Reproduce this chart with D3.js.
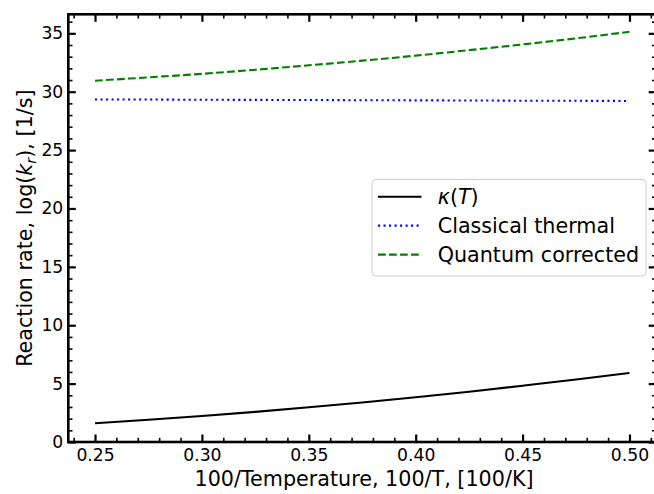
<!DOCTYPE html>
<html>
<head>
<meta charset="utf-8">
<script src="https://cdn.jsdelivr.net/npm/d3@7"></script>
<style>
  body { margin: 0; background: #fff; }
  text { font-family: "DejaVu Sans", sans-serif; fill: #000; }
</style>
</head>
<body>
<svg id="chart" width="654" height="494"></svg>
<script>
// Inverse temperature, 100/T [100/K]
const invTemp = [0.25, 0.275, 0.30, 0.325, 0.35, 0.375, 0.40, 0.425, 0.45, 0.475, 0.50];
// Tunnelling factor kappa(T), log scale
const kappa = [1.60, 1.90, 2.22, 2.58, 2.97, 3.39, 3.83, 4.31, 4.82, 5.35, 5.92];
// Classical thermal rate, log(k_r)
const classical = [29.34, 29.33, 29.31, 29.30, 29.29, 29.27, 29.26, 29.25, 29.23, 29.22, 29.21];
// Quantum corrected rate, log(k_r)
const quantum = [30.94, 31.23, 31.53, 31.88, 32.26, 32.66, 33.09, 33.56, 34.05, 34.57, 35.13];

const xTicks = [0.25, 0.30, 0.35, 0.40, 0.45, 0.50];
const xTickLabels = ["0.25", "0.30", "0.35", "0.40", "0.45", "0.50"];
const yTicks = [0, 5, 10, 15, 20, 25, 30, 35];
const yTickLabels = ["0", "5", "10", "15", "20", "25", "30", "35"];

const seriesNames = ["kappa", "Classical thermal", "Quantum corrected"];

const svg = d3.select("#chart");

const x = d3.scaleLinear().domain([0.2375, 0.5125]).range([68.3, 656.2]);
const y = d3.scaleLinear().domain([0, 36.63]).range([442, 14.3]);

const plotLeft = x.range()[0], plotRight = x.range()[1];
const plotTop = y.range()[1], plotBottom = y.range()[0];

const majorLen = 7.5, minorLen = 4.2;
const tickFont = 17.2, labelFont = 20.7;
const xMinor = d3.range(24, 52).map(v => v / 100).filter(v => !xTicks.some(t => Math.abs(t - v) < 1e-9));
const yMinor = d3.range(0, 37).filter(v => !yTicks.includes(v));

function styleTicks(g, w) {
  g.select(".domain").remove();
  g.selectAll(".tick line").attr("stroke", "#000").attr("stroke-width", w);
}

// Bottom axis
svg.append("g").attr("transform", `translate(0,${plotBottom})`)
  .call(d3.axisBottom(x).tickValues(xTicks).tickSize(-majorLen).tickPadding(7)
    .tickFormat((d, i) => xTickLabels[i]))
  .call(g => styleTicks(g, 2.2))
  .call(g => g.selectAll("text").attr("font-size", tickFont).attr("font-family", "DejaVu Sans"));
svg.append("g").attr("transform", `translate(0,${plotBottom})`)
  .call(d3.axisBottom(x).tickValues(xMinor).tickSize(-minorLen).tickFormat(""))
  .call(g => styleTicks(g, 1.6));

// Top axis
svg.append("g").attr("transform", `translate(0,${plotTop})`)
  .call(d3.axisTop(x).tickValues(xTicks).tickSize(-majorLen).tickFormat(""))
  .call(g => styleTicks(g, 2.2));
svg.append("g").attr("transform", `translate(0,${plotTop})`)
  .call(d3.axisTop(x).tickValues(xMinor).tickSize(-minorLen).tickFormat(""))
  .call(g => styleTicks(g, 1.6));

// Left axis
svg.append("g").attr("transform", `translate(${plotLeft},0)`)
  .call(d3.axisLeft(y).tickValues(yTicks).tickSize(-majorLen).tickPadding(5)
    .tickFormat((d, i) => yTickLabels[i]))
  .call(g => styleTicks(g, 2.2))
  .call(g => g.selectAll("text").attr("font-size", tickFont).attr("font-family", "DejaVu Sans"));
svg.append("g").attr("transform", `translate(${plotLeft},0)`)
  .call(d3.axisLeft(y).tickValues(yMinor).tickSize(-minorLen).tickFormat(""))
  .call(g => styleTicks(g, 1.6));

// Right axis
svg.append("g").attr("transform", `translate(${plotRight},0)`)
  .call(d3.axisRight(y).tickValues(yTicks).tickSize(-majorLen).tickFormat(""))
  .call(g => styleTicks(g, 2.2));
svg.append("g").attr("transform", `translate(${plotRight},0)`)
  .call(d3.axisRight(y).tickValues(yMinor).tickSize(-minorLen).tickFormat(""))
  .call(g => styleTicks(g, 1.6));

// Spines
svg.append("rect")
  .attr("x", plotLeft).attr("y", plotTop)
  .attr("width", plotRight - plotLeft).attr("height", plotBottom - plotTop)
  .attr("fill", "none").attr("stroke", "#000").attr("stroke-width", 2.6);

// Curves
const styles = [
  { color: "#000000", dash: null },
  { color: "#0000ff", dash: "2.08,3.43" },
  { color: "#008000", dash: "7.7,3.33" }
];
const seriesValues = [kappa, classical, quantum];

const line = d3.line().x(d => x(d[0])).y(d => y(d[1])).curve(d3.curveMonotoneX);

seriesValues.forEach((vals, i) => {
  svg.append("path")
    .datum(invTemp.map((t, j) => [t, vals[j]]))
    .attr("d", line)
    .attr("fill", "none")
    .attr("stroke", styles[i].color)
    .attr("stroke-width", 2.08)
    .attr("stroke-dasharray", styles[i].dash);
});

// Legend
const lg = svg.append("g");
lg.append("rect")
  .attr("x", 372).attr("y", 179.5).attr("width", 274).attr("height", 96.5)
  .attr("rx", 4).attr("ry", 4)
  .attr("fill", "#fff").attr("fill-opacity", 0.8)
  .attr("stroke", "#cccccc").attr("stroke-width", 1);

const rowY = [196.7, 225.6, 254.6];
seriesNames.forEach((name, i) => {
  lg.append("line")
    .attr("x1", 378).attr("x2", 421.5)
    .attr("y1", rowY[i]).attr("y2", rowY[i])
    .attr("stroke", styles[i].color)
    .attr("stroke-width", 2.08)
    .attr("stroke-dasharray", styles[i].dash);
  const t = lg.append("text")
    .attr("x", 437.7).attr("y", rowY[i] + 7.4)
    .attr("font-size", labelFont);
  if (i === 0) {
    t.append("tspan").attr("font-style", "italic").text("κ");
    t.append("tspan").text("(");
    t.append("tspan").attr("font-style", "italic").text("T");
    t.append("tspan").text(")");
  } else {
    t.text(name);
  }
});

// Axis titles
svg.append("text")
  .attr("x", 364).attr("y", 486)
  .attr("text-anchor", "middle")
  .attr("font-size", labelFont)
  .text("100/Temperature, 100/T, [100/K]");

const yl = svg.append("text")
  .attr("transform", `translate(32,${(plotTop + plotBottom) / 2}) rotate(-90)`)
  .attr("text-anchor", "middle")
  .attr("font-size", labelFont);
yl.append("tspan").text("Reaction rate, log(");
yl.append("tspan").attr("font-style", "italic").text("k");
yl.append("tspan").attr("font-style", "italic").attr("font-size", 14.5).attr("dy", 3.5).text("r");
yl.append("tspan").attr("dy", -3.5).text("), [1/s]");
</script>
</body>
</html>
